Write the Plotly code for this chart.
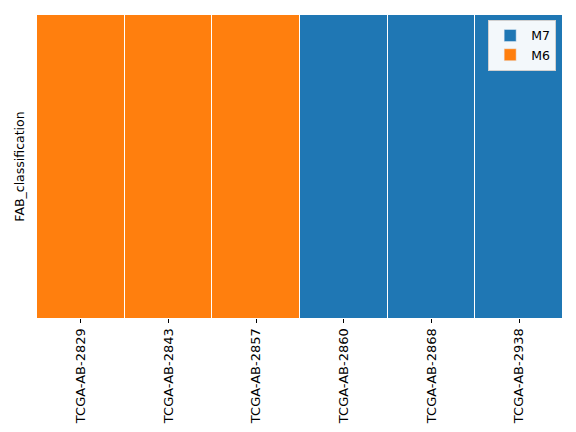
import plotly.graph_objects as go

samples = ["TCGA-AB-2829", "TCGA-AB-2843", "TCGA-AB-2857",
           "TCGA-AB-2860", "TCGA-AB-2868", "TCGA-AB-2938"]
fab = ["M6", "M6", "M6", "M7", "M7", "M7"]
classes = ["M7", "M6"]
class_colors = ["#1f77b4", "#ff7f0e"]
row_label = "FAB_classification"

z = [[classes.index(f) for f in fab]]
colorscale = [[0, class_colors[0]], [0.5, class_colors[0]],
              [0.5, class_colors[1]], [1, class_colors[1]]]

fig = go.Figure()
fig.add_trace(go.Heatmap(
    z=z, x=samples, y=[row_label], zmin=0, zmax=1,
    colorscale=colorscale, showscale=False, xgap=1,
    hoverinfo="x+text", text=[fab],
))
for name, col in zip(classes, class_colors):
    fig.add_trace(go.Bar(x=[None], y=[None], name=name,
                         marker=dict(color=col), showlegend=True))

fig.update_layout(
    width=576, height=432,
    margin=dict(l=37, r=13, t=15, b=114),
    paper_bgcolor="white", plot_bgcolor="white",
    font=dict(family="DejaVu Sans", size=12.5, color="black"),
    legend=dict(x=0.987, y=0.984, xanchor="right", yanchor="top",
                bgcolor="rgba(255,255,255,0.95)", bordercolor="#d0d0d0",
                borderwidth=1, font=dict(size=12.5), traceorder="normal",
                itemwidth=32, tracegroupgap=2),
    showlegend=True,
)
fig.update_xaxes(type="category", categoryorder="array", categoryarray=samples,
                 tickangle=-90, ticks="outside", ticklen=4, tickcolor="black",
                 showgrid=False, zeroline=False, showline=False,
                 tickfont=dict(size=13), automargin=False)
fig.update_yaxes(type="category", showticklabels=False, ticks="",
                 showgrid=False, zeroline=False, showline=False,
                 automargin=False,
                 title=dict(text=row_label, font=dict(size=12.5), standoff=8))
fig.write_html("out.html")
